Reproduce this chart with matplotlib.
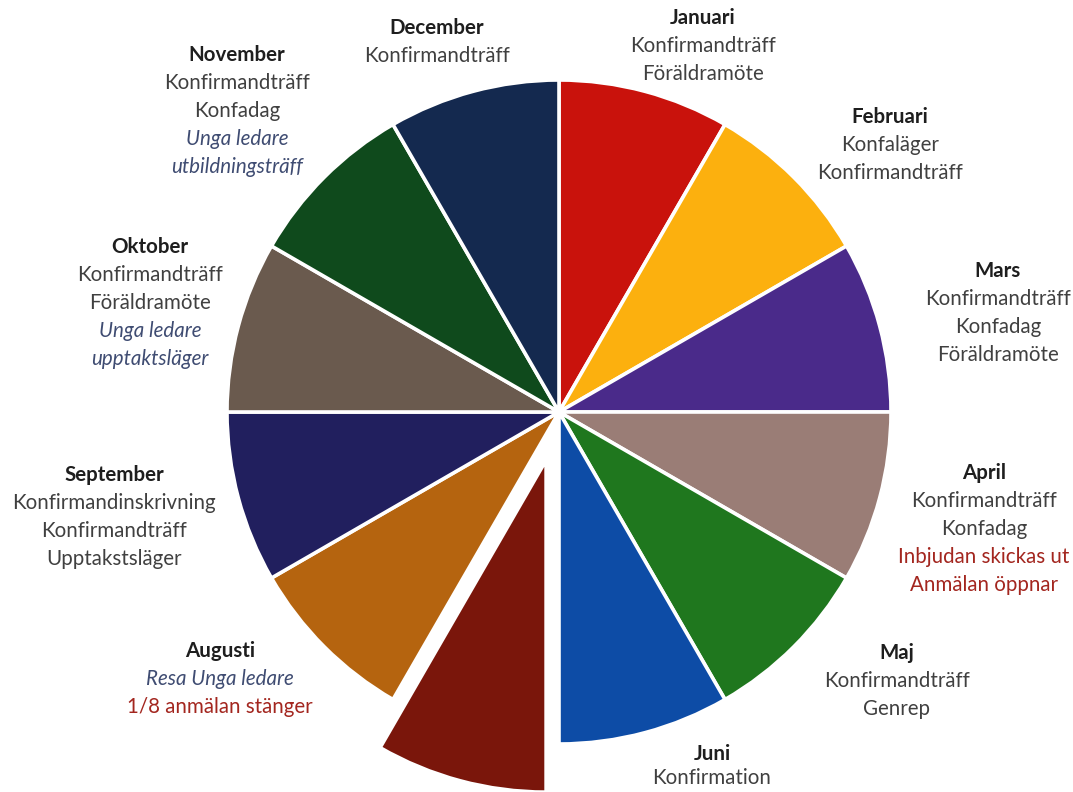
import matplotlib
matplotlib.use("Agg")
import matplotlib.pyplot as plt

# ---- data ----
months = ["Januari", "Februari", "Mars", "April", "Maj", "Juni",
          "Juli", "Augusti", "September", "Oktober", "November", "December"]
shares = [1, 1, 1, 1, 1, 1, 1, 1, 1, 1, 1, 1]
exploded = [0, 0, 0, 0, 0, 0, 0.15, 0, 0, 0, 0, 0]

# event lines per month: (text, kind) kind: n=normal, i=italic blue, r=red
events = {
    "Januari": [("Konfirmandträff", "n"), ("Föräldramöte", "n")],
    "Februari": [("Konfaläger", "n"), ("Konfirmandträff", "n")],
    "Mars": [("Konfirmandträff", "n"), ("Konfadag", "n"), ("Föräldramöte", "n")],
    "April": [("Konfirmandträff", "n"), ("Konfadag", "n"),
              ("Inbjudan skickas ut", "r"), ("Anmälan öppnar", "r")],
    "Maj": [("Konfirmandträff", "n"), ("Genrep", "n")],
    "Juni": [("Konfirmation", "n")],
    "Juli": [],
    "Augusti": [("Resa Unga ledare", "i"), ("1/8 anmälan stänger", "r")],
    "September": [("Konfirmandinskrivning", "n"), ("Konfirmandträff", "n"),
                  ("Upptakstsläger", "n")],
    "Oktober": [("Konfirmandträff", "n"), ("Föräldramöte", "n"),
                ("Unga ledare", "i"), ("upptaktsläger", "i")],
    "November": [("Konfirmandträff", "n"), ("Konfadag", "n"),
                 ("Unga ledare", "i"), ("utbildningsträff", "i")],
    "December": [("Konfirmandträff", "n")],
}

# ---- styles / layout ----
colors = ["#C9120C", "#FCB00E", "#4A2A8A", "#9A7D76", "#1F771E", "#0D4CA6",
          "#7A160B", "#B5640F", "#211F5E", "#6A5A4E", "#0F4A1C", "#14294F"]
# label anchor (center x, first-line y) in pixel coords (from top)
label_pos = {
    "Januari": (703, 18), "Februari": (890, 117), "Mars": (998, 271),
    "April": (984, 473), "Maj": (897, 653), "Juni": (712, 754),
    "Augusti": (220, 651), "September": (114, 475), "Oktober": (150, 247),
    "November": (237, 55), "December": (437, 28),
}
W, H = 1073, 792
line_h = 28
fs = 14.8
kind_color = {"n": "#404040", "i": "#3F4C72", "r": "#A3261F"}

plt.rcParams["font.family"] = ["Lato", "DejaVu Sans"]

fig = plt.figure(figsize=(W / 100, H / 100), dpi=100)
ax = fig.add_axes([0, 0, 1, 1])

cx, cy, R = 559, H - 412, 332
ax.pie(shares, colors=colors, startangle=90, counterclock=False,
       explode=[e * R for e in exploded], center=(cx, cy), radius=R,
       frame=True, wedgeprops=dict(edgecolor="white", linewidth=2.6))
ax.set_xlim(0, W)
ax.set_ylim(0, H)
ax.set_aspect("auto")
ax.axis("off")

for m in months:
    if m not in label_pos:
        continue
    x, y0 = label_pos[m]
    ax.text(x, H - y0, m, ha="center", va="center", fontsize=fs,
            fontweight="bold", color="#1e1e1e")
    for k, (txt, kind) in enumerate(events[m], start=1):
        yk = y0 + k * line_h
        ax.text(x, H - min(yk, 778), txt, ha="center", va="center",
                fontsize=fs, color=kind_color[kind],
                fontstyle="italic" if kind == "i" else "normal")

fig.savefig("out.png", dpi=100)
